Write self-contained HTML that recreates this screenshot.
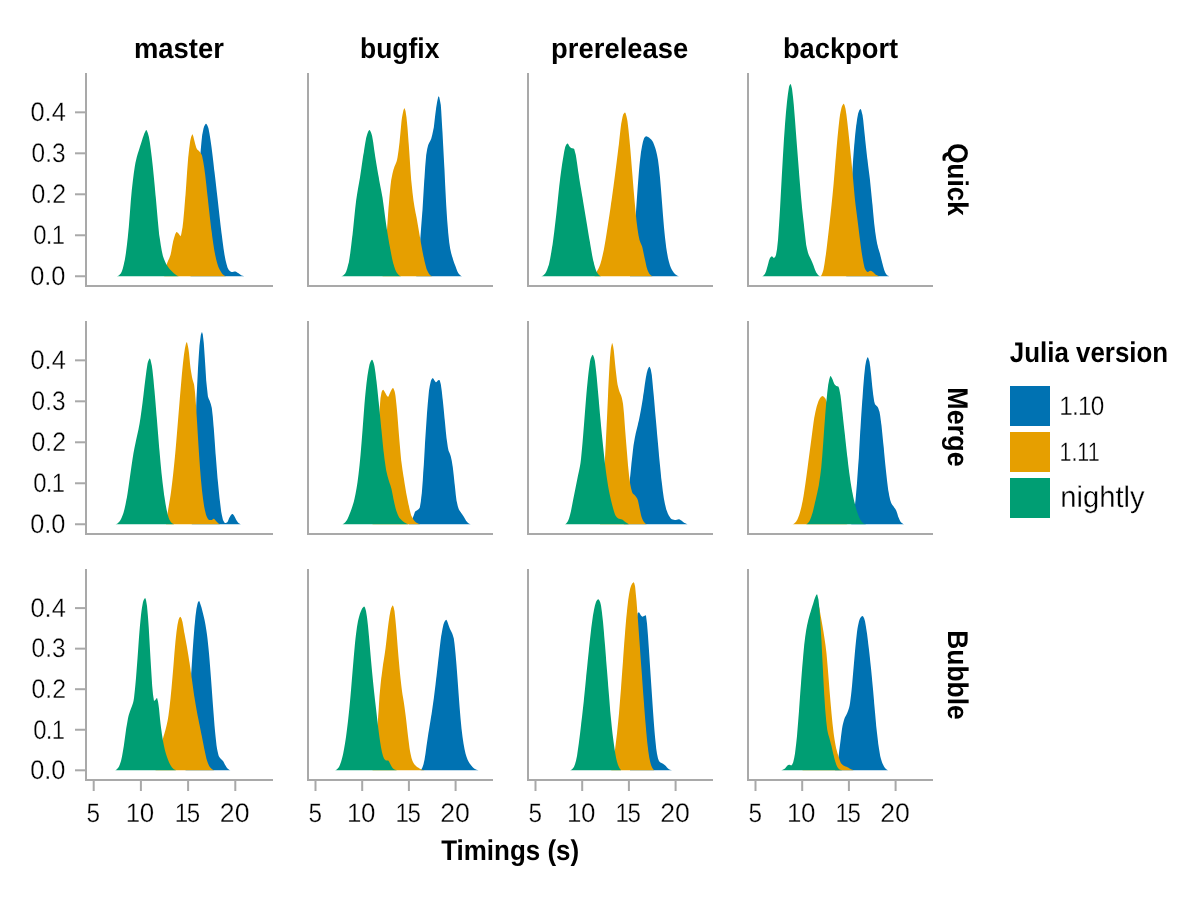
<!DOCTYPE html>
<html lang="en"><head><meta charset="utf-8"><title>Timings (s) by Julia version</title>
<style>html,body{margin:0;padding:0;background:#fff}svg{display:block}text{font-family:"Liberation Sans", sans-serif;fill:#000;text-rendering:geometricPrecision}.b{font-weight:bold}.lt{stroke:#fff;stroke-width:.3px}</style></head><body>
<svg width="1200" height="900" viewBox="0 0 1200 900" style="will-change:transform">
<rect width="1200" height="900" fill="#fff"/>
<g>
<path fill="#0072B2" d="M190.5 276.25L190.5 276.2L191.5 269.2L192.5 260.3L193.5 250.0L194.5 237.3L195.5 222.4L196.0 215.0L196.5 207.6L197.5 192.1L198.5 177.5L199.5 164.4L200.5 152.5L201.5 141.4L202.2 135.0L202.5 133.5L203.5 128.6L204.2 126.2L204.5 125.7L205.5 124.0L206.0 123.8L206.5 124.0L207.5 125.8L208.0 127.0L208.5 128.6L209.5 133.8L210.5 140.0L211.5 147.0L212.5 155.1L213.5 163.6L214.2 170.0L214.5 172.1L215.5 180.6L216.5 189.4L217.5 198.1L218.0 202.5L218.5 206.9L219.5 215.9L220.5 224.8L221.5 233.1L221.8 235.0L222.5 240.7L223.5 248.2L224.5 254.8L225.5 260.0L226.5 264.1L227.5 267.4L228.5 269.5L229.5 270.7L230.5 271.5L231.5 272.0L231.8 272.0L232.5 271.9L233.5 271.7L234.5 271.5L235.0 271.5L235.5 271.6L236.5 272.0L237.5 272.7L238.0 273.0L238.5 273.3L239.5 274.0L240.5 274.8L241.5 275.4L241.8 275.5L242.5 275.8L243.5 276.1L244.2 276.2L244.2 276.25Z"/>
<path fill="#E69F00" d="M164.2 276.25L164.2 276.2L165.2 270.9L166.2 266.4L166.8 264.5L167.2 263.0L168.2 260.6L169.2 258.4L170.2 255.8L170.5 255.0L171.2 251.7L172.2 246.0L173.2 240.9L173.5 240.0L174.2 237.4L175.2 234.3L176.2 232.3L176.8 232.0L177.2 232.2L178.2 233.2L178.8 233.8L179.2 234.5L180.2 236.1L180.5 236.2L181.2 234.5L182.2 229.0L182.5 227.5L183.2 221.5L184.2 210.5L185.2 198.0L185.5 195.0L186.2 185.0L187.2 170.3L188.2 157.5L188.5 155.0L189.2 148.4L190.2 141.0L191.0 137.5L191.2 136.7L192.2 134.4L192.5 134.2L193.2 135.9L194.2 140.0L195.2 143.9L196.2 147.6L196.8 148.8L197.2 149.4L198.2 150.3L199.2 151.2L200.2 152.4L201.2 154.0L201.8 155.0L202.2 156.5L203.2 161.4L204.2 167.5L205.2 174.9L206.2 183.8L207.2 193.2L208.0 200.0L208.2 202.2L209.2 211.2L210.2 220.2L211.2 228.7L211.8 232.5L212.2 236.2L213.2 243.2L214.2 249.7L215.2 255.1L215.5 256.2L216.2 259.4L217.2 263.2L218.2 266.4L219.2 268.8L220.2 270.6L221.2 272.3L222.2 273.7L223.2 274.8L224.2 275.5L225.2 275.9L226.2 276.2L226.8 276.2L226.8 276.25Z"/>
<path fill="#009E73" d="M116.8 276.25L116.8 276.2L117.8 276.0L118.8 275.4L119.8 274.5L120.5 273.8L120.8 273.4L121.8 271.4L122.8 268.4L123.8 264.6L124.2 262.5L124.8 260.1L125.8 253.8L126.8 246.0L127.8 237.3L128.0 235.0L128.8 227.0L129.8 214.2L130.8 201.0L131.8 190.0L132.8 181.2L133.8 173.3L134.8 166.6L135.5 162.5L135.8 161.3L136.8 157.1L137.8 153.6L138.8 150.4L139.8 147.3L140.5 145.0L140.8 144.2L141.8 140.9L142.8 137.8L143.8 135.0L144.2 133.8L144.8 132.5L145.8 130.4L146.2 130.0L146.8 130.4L147.8 132.9L148.5 135.5L148.8 136.5L149.8 142.0L150.8 149.4L151.8 157.5L152.8 166.4L153.8 176.5L154.8 187.1L155.5 195.0L155.8 197.6L156.8 209.0L157.8 220.6L158.8 230.9L159.2 235.0L159.8 238.6L160.8 245.3L161.8 251.0L162.8 255.4L163.0 256.2L163.8 258.5L164.8 261.1L165.8 263.2L166.8 265.0L167.8 266.6L168.8 267.9L169.8 269.2L170.8 270.3L171.8 271.2L172.8 272.2L173.8 273.2L174.8 274.0L175.8 274.8L176.8 275.5L177.8 275.9L178.0 276.0L178.8 276.2L179.2 276.2L179.2 276.25Z"/>
</g>
<g>
<path fill="#0072B2" d="M416.2 276.25L416.2 276.2L417.2 271.8L418.2 264.4L418.8 260.0L419.2 254.4L420.2 239.7L420.5 236.2L421.2 226.6L422.2 213.5L422.5 210.0L423.2 198.0L424.2 181.2L424.5 177.5L425.2 166.5L426.2 155.0L427.2 148.9L428.2 145.0L429.2 142.7L430.2 141.0L431.2 138.8L432.2 135.1L433.2 130.3L433.8 127.5L434.2 124.0L435.2 115.2L436.2 107.5L437.2 101.5L438.2 97.0L438.8 96.2L439.2 97.0L440.2 101.7L440.8 105.0L441.2 110.5L442.2 128.1L442.5 132.5L443.2 146.0L444.2 165.1L444.5 170.0L445.2 185.5L446.2 205.0L447.2 220.5L448.0 230.0L448.2 232.7L449.2 242.2L450.0 247.5L450.2 248.8L451.2 253.2L452.2 256.7L452.5 257.5L453.2 259.9L454.2 262.9L455.2 265.6L455.5 266.2L456.2 268.3L457.2 270.9L458.2 273.1L458.8 273.8L459.2 274.3L460.2 275.2L461.2 275.9L462.2 276.2L462.5 276.2L462.5 276.25Z"/>
<path fill="#E69F00" d="M382.5 276.25L382.5 276.2L383.5 272.1L384.5 264.5L385.0 260.0L385.5 254.1L386.5 237.9L387.0 230.0L387.5 222.5L388.5 208.1L388.8 205.0L389.5 196.2L390.5 185.8L391.2 180.0L391.5 178.5L392.5 173.5L393.5 169.6L393.8 168.8L394.5 166.6L395.5 164.3L396.5 161.8L397.0 160.0L397.5 157.6L398.5 150.7L399.5 142.5L400.5 132.1L401.5 121.2L402.0 117.5L402.5 114.7L403.5 110.0L404.5 108.0L405.5 111.1L406.5 117.5L407.5 127.8L408.5 141.6L408.8 145.0L409.5 155.6L410.5 170.5L411.2 180.0L411.5 182.7L412.5 192.5L413.5 200.7L413.8 202.5L414.5 207.1L415.5 212.4L416.5 217.3L417.0 220.0L417.5 222.9L418.5 228.8L419.5 234.7L420.0 237.5L420.5 240.3L421.5 246.0L422.5 251.4L423.5 256.4L423.8 257.5L424.5 260.9L425.5 265.1L426.5 268.7L427.0 270.0L427.5 271.1L428.5 273.1L429.5 274.5L430.0 275.0L430.5 275.4L431.5 276.0L432.5 276.2L432.5 276.25Z"/>
<path fill="#009E73" d="M341.2 276.25L341.2 276.2L342.2 276.0L343.2 275.4L344.2 274.5L345.0 273.8L345.2 273.4L346.2 271.4L347.2 268.4L348.2 264.6L348.8 262.5L349.2 260.0L350.2 253.5L351.2 245.5L352.2 237.1L352.5 235.0L353.2 228.3L354.2 218.3L355.2 208.5L356.2 200.0L357.2 193.4L358.2 187.6L359.2 182.0L360.0 177.5L360.2 175.9L361.2 169.2L362.2 162.2L363.2 155.6L363.8 152.5L364.2 149.4L365.2 143.2L366.2 137.8L367.0 135.0L367.2 134.3L368.2 131.6L369.2 130.1L369.5 130.0L370.2 130.7L371.2 133.1L372.0 135.5L372.2 136.4L373.2 142.3L374.2 149.8L375.0 155.0L375.2 156.6L376.2 162.7L377.2 168.8L378.2 174.6L378.8 177.5L379.2 180.2L380.2 185.4L381.2 190.5L382.2 196.0L382.5 197.5L383.2 202.5L384.2 210.1L385.2 217.8L386.2 225.0L387.2 231.5L388.2 237.6L389.2 243.4L390.0 247.5L390.2 248.8L391.2 254.1L392.2 259.0L393.2 263.3L393.8 265.0L394.2 266.6L395.2 269.5L396.2 271.8L397.0 273.0L397.2 273.3L398.2 274.4L399.2 275.4L400.2 276.0L401.2 276.2L401.2 276.25Z"/>
</g>
<g>
<path fill="#0072B2" d="M630.0 276.25L630.0 276.2L631.0 271.5L632.0 264.1L633.0 255.0L634.0 242.4L635.0 226.6L635.8 215.0L636.0 211.4L637.0 196.9L637.5 190.0L638.0 183.2L639.0 170.4L639.5 165.0L640.0 160.3L641.0 152.1L641.8 147.5L642.0 146.2L643.0 141.6L644.0 138.4L644.2 138.0L645.0 137.0L646.0 136.3L646.2 136.2L647.0 136.4L648.0 136.9L649.0 137.6L649.5 138.0L650.0 138.4L651.0 139.3L652.0 140.5L652.5 141.2L653.0 142.1L654.0 144.4L655.0 147.2L655.5 148.8L656.0 150.5L657.0 154.7L658.0 160.0L659.0 167.7L660.0 177.5L661.0 189.4L662.0 202.5L663.0 215.5L664.0 227.5L665.0 237.4L666.0 245.7L666.2 247.5L667.0 252.4L668.0 258.0L668.8 261.2L669.0 262.1L670.0 265.4L671.0 268.0L672.0 270.0L673.0 271.6L674.0 273.0L675.0 274.1L675.5 274.5L676.0 274.8L677.0 275.4L678.0 275.9L679.0 276.2L679.5 276.2L679.5 276.25Z"/>
<path fill="#E69F00" d="M594.5 276.25L594.5 276.2L595.5 274.3L596.5 272.3L597.0 271.2L597.5 270.3L598.5 268.4L599.5 266.3L600.0 265.0L600.5 263.5L601.5 260.0L602.5 255.8L603.5 251.2L603.8 250.0L604.5 246.1L605.5 240.2L606.5 233.9L607.5 227.5L608.5 221.1L609.5 214.5L610.5 207.7L611.2 202.5L611.5 200.7L612.5 193.6L613.5 186.3L614.5 178.8L615.0 175.0L615.5 171.1L616.5 163.3L617.5 155.2L618.5 147.1L618.8 145.0L619.5 138.3L620.5 129.2L621.2 123.8L621.5 122.3L622.5 116.9L623.2 114.5L623.5 114.1L624.5 112.7L625.0 112.5L625.5 113.1L626.5 116.5L627.0 118.8L627.5 121.6L628.5 130.0L629.5 140.0L630.5 151.3L631.5 163.8L632.0 170.0L632.5 176.1L633.5 188.4L634.5 200.0L635.5 210.9L636.5 220.9L637.0 225.0L637.5 228.7L638.5 235.2L639.5 240.0L640.5 242.7L641.5 244.9L642.0 246.2L642.5 248.1L643.5 252.8L644.5 257.5L645.5 262.1L646.5 266.7L647.5 270.0L648.5 272.2L649.5 273.9L650.5 275.0L651.5 275.7L652.5 276.2L653.0 276.2L653.0 276.25Z"/>
<path fill="#009E73" d="M541.2 276.25L541.2 276.2L542.2 276.0L543.2 275.4L544.2 274.5L545.0 273.8L545.2 273.5L546.2 271.8L547.2 269.5L548.2 266.6L548.8 265.0L549.2 263.2L550.2 258.5L551.2 252.8L552.2 246.6L552.5 245.0L553.2 239.8L554.2 232.1L555.2 223.6L556.2 215.0L557.2 205.8L558.2 195.9L559.2 186.4L560.0 180.0L560.2 178.0L561.2 170.5L562.2 163.6L563.2 157.5L564.2 151.6L565.2 146.9L565.5 146.2L566.2 144.8L567.2 143.6L567.5 143.5L568.2 144.1L569.2 145.9L570.0 147.0L570.2 147.2L571.2 147.9L572.0 148.2L572.2 148.3L573.2 148.5L574.0 148.8L574.2 149.0L575.2 152.7L575.8 155.0L576.2 157.6L577.2 164.3L578.2 171.6L578.8 175.0L579.2 178.1L580.2 184.2L581.2 190.1L582.2 196.0L582.5 197.5L583.2 202.0L584.2 208.0L585.2 214.0L586.2 220.0L587.2 226.1L588.2 232.2L589.2 238.2L590.0 242.5L590.2 243.9L591.2 249.7L592.2 255.4L593.2 260.4L593.8 262.5L594.2 264.4L595.2 268.1L596.2 271.0L597.0 272.5L597.2 272.8L598.2 274.2L599.2 275.2L600.2 276.0L601.2 276.2L601.2 276.25Z"/>
</g>
<g>
<path fill="#0072B2" d="M846.2 276.25L846.2 276.2L847.2 265.3L848.2 251.9L849.2 236.6L849.5 232.5L850.2 218.1L851.2 195.5L852.2 174.3L852.5 170.0L853.2 158.5L854.2 145.4L854.5 142.5L855.2 134.5L856.2 125.6L856.5 123.8L857.2 118.6L858.2 113.3L858.5 112.5L859.2 110.6L860.2 109.1L860.5 109.0L861.2 110.1L862.2 113.9L862.5 115.0L863.2 120.1L864.2 130.0L865.0 137.5L865.2 139.8L866.2 148.9L867.2 157.9L867.5 160.0L868.2 166.0L869.2 173.7L870.0 180.0L870.2 182.3L871.2 192.2L872.2 202.5L872.5 205.0L873.2 212.9L874.2 223.4L875.0 230.0L875.2 231.8L876.2 238.5L877.2 243.9L877.5 245.0L878.2 247.9L879.2 251.2L880.0 253.8L880.2 254.7L881.2 258.8L882.2 262.8L882.5 263.8L883.2 266.6L884.2 270.1L885.0 272.0L885.2 272.5L886.2 274.2L887.2 275.3L887.5 275.5L888.2 275.8L889.2 276.2L890.0 276.2L890.0 276.25Z"/>
<path fill="#E69F00" d="M820.5 276.25L820.5 276.2L821.5 275.2L822.5 272.7L823.0 271.2L823.5 269.4L824.5 263.7L825.5 256.7L825.8 255.0L826.5 249.4L827.5 241.1L828.5 232.5L829.5 223.8L830.5 214.7L831.0 210.0L831.5 205.2L832.5 195.5L833.5 185.0L834.5 173.0L835.5 160.5L835.8 157.5L836.5 148.8L837.5 137.6L838.0 132.5L838.5 127.6L839.5 118.5L840.0 115.0L840.5 112.2L841.5 107.7L842.0 106.2L842.5 105.2L843.5 103.8L843.8 103.8L844.5 105.0L845.5 108.8L846.5 115.2L847.5 123.8L848.5 132.8L849.5 142.6L850.0 147.5L850.5 152.4L851.5 162.3L852.5 172.5L853.5 183.7L854.5 195.0L855.0 200.0L855.5 204.4L856.5 212.3L857.5 220.0L858.5 228.1L859.5 236.2L860.0 240.0L860.5 243.8L861.5 251.2L862.5 257.5L863.5 262.9L864.5 267.4L865.0 268.8L865.5 269.7L866.5 271.3L867.5 272.0L868.5 271.7L869.5 271.1L870.5 270.8L871.5 271.0L872.5 271.7L873.0 272.0L873.5 272.4L874.5 273.4L875.5 274.4L876.2 275.0L876.5 275.1L877.5 275.6L878.5 276.0L879.5 276.2L879.5 276.25Z"/>
<path fill="#009E73" d="M762.0 276.25L762.0 276.2L763.0 275.9L764.0 275.0L765.0 273.8L766.0 271.4L767.0 267.9L767.5 266.2L768.0 264.5L769.0 260.6L770.0 258.0L771.0 256.8L772.0 256.2L773.0 257.3L773.8 258.0L774.0 258.0L775.0 257.0L775.5 256.2L776.0 254.8L777.0 249.2L777.2 247.5L778.0 239.9L779.0 225.3L779.5 217.5L780.0 209.3L781.0 190.8L782.0 172.5L783.0 155.1L784.0 138.4L784.8 127.5L785.0 124.3L786.0 112.1L787.0 101.8L787.5 97.5L788.0 93.5L789.0 87.1L789.2 86.2L790.0 84.5L790.5 84.0L791.0 84.7L792.0 88.8L793.0 96.9L793.8 105.0L794.0 107.7L795.0 120.1L796.0 133.5L796.5 140.0L797.0 146.4L798.0 159.2L799.0 171.9L799.2 175.0L800.0 184.4L801.0 196.7L801.8 205.0L802.0 207.5L803.0 216.7L804.0 225.3L804.2 227.5L805.0 234.7L806.0 243.4L806.2 245.0L807.0 248.8L808.0 252.7L808.8 255.0L809.0 255.6L810.0 257.6L811.0 259.5L811.2 260.0L812.0 261.8L813.0 264.3L813.8 266.2L814.0 266.9L815.0 269.7L816.0 272.1L816.2 272.5L817.0 273.6L818.0 274.9L819.0 275.8L820.0 276.2L820.0 276.25Z"/>
</g>
<g>
<path fill="#0072B2" d="M191.8 524.25L191.8 524.2L192.8 504.3L193.8 480.8L194.2 468.0L194.8 453.3L195.8 419.8L196.5 398.0L196.8 392.2L197.8 372.4L198.0 368.0L198.8 355.4L199.5 345.5L199.8 343.0L200.8 335.3L201.0 334.2L201.8 332.2L202.0 332.0L202.8 334.6L203.2 338.0L203.8 343.2L204.8 358.0L205.8 373.7L206.2 380.5L206.8 386.3L207.8 395.5L208.0 396.8L208.8 399.0L209.8 401.1L210.0 401.8L210.8 404.0L211.8 408.0L212.8 416.8L213.5 425.5L213.8 428.5L214.8 442.5L215.5 453.0L215.8 456.3L216.8 469.1L217.5 478.0L217.8 480.7L218.8 491.1L219.5 498.0L219.8 500.2L220.8 508.4L221.2 511.8L221.8 514.7L222.8 519.3L223.0 520.0L223.8 521.6L224.8 522.9L225.0 523.0L225.8 522.9L226.8 522.6L227.0 522.5L227.8 521.5L228.8 519.1L229.2 518.0L229.8 517.1L230.8 515.3L231.2 514.8L231.8 514.3L232.5 514.0L232.8 514.1L233.8 515.2L234.0 515.5L234.8 516.9L235.8 519.0L236.0 519.5L236.8 520.7L237.8 522.2L238.5 523.0L238.8 523.2L239.8 523.8L240.8 524.2L241.0 524.2L241.0 524.25Z"/>
<path fill="#E69F00" d="M166.0 524.25L166.0 524.2L167.0 517.2L168.0 510.5L169.0 504.6L170.0 498.7L170.5 495.5L171.0 491.9L172.0 484.1L173.0 475.5L174.0 466.1L175.0 455.9L175.5 450.5L176.0 444.8L177.0 432.8L178.0 420.5L179.0 408.4L180.0 396.3L180.5 390.5L181.0 384.7L182.0 373.1L183.0 363.0L184.0 354.5L185.0 348.0L186.0 343.5L186.8 342.0L187.0 342.2L188.0 346.4L188.5 349.2L189.0 353.1L190.0 363.6L190.5 368.0L191.0 371.3L192.0 376.9L192.5 379.2L193.0 381.0L194.0 384.3L194.2 385.5L195.0 392.2L196.0 405.5L197.0 421.2L198.0 438.0L199.0 453.7L200.0 468.0L201.0 480.3L202.0 490.5L203.0 498.7L204.0 505.4L204.2 506.8L205.0 510.5L206.0 514.7L206.8 516.8L207.0 517.2L208.0 519.0L209.0 520.0L209.2 520.0L210.0 520.0L211.0 520.0L211.8 520.0L212.0 519.9L213.0 519.1L213.8 518.8L214.0 518.8L215.0 519.8L216.0 521.0L217.0 522.1L218.0 523.1L218.5 523.5L219.0 523.8L220.0 524.2L220.5 524.2L220.5 524.25Z"/>
<path fill="#009E73" d="M115.5 524.25L115.5 524.2L116.5 524.0L117.5 523.4L118.5 522.5L119.2 521.8L119.5 521.5L120.5 520.0L121.5 518.0L122.5 515.6L123.0 514.2L123.5 512.7L124.5 508.9L125.5 504.4L126.5 499.3L126.8 498.0L127.5 493.7L128.5 487.0L129.5 479.9L130.5 473.0L131.5 466.1L132.5 459.2L133.5 453.0L134.5 447.7L135.5 442.9L136.0 440.5L136.5 438.2L137.5 433.8L138.5 429.3L139.2 425.5L139.5 424.1L140.5 417.7L141.5 410.5L142.5 403.0L143.5 394.8L144.5 386.0L145.5 378.0L146.5 370.3L147.5 363.8L148.0 361.8L148.5 360.4L149.5 358.6L149.8 358.5L150.5 359.8L151.5 364.2L151.8 365.5L152.5 370.6L153.5 380.1L154.2 388.0L154.5 390.7L155.5 402.5L156.5 415.0L156.8 418.0L157.5 427.1L158.5 439.2L159.2 448.0L159.5 450.9L160.5 462.4L161.5 473.1L161.8 475.5L162.5 482.1L163.5 490.1L164.2 495.5L164.5 497.2L165.5 503.8L166.5 509.3L166.8 510.5L167.5 513.7L168.5 517.3L169.2 519.2L169.5 519.7L170.5 521.4L171.5 522.7L172.5 523.5L173.5 524.0L174.2 524.2L174.2 524.25Z"/>
</g>
<g>
<path fill="#0072B2" d="M408.8 524.25L408.8 524.2L409.8 522.9L410.8 521.3L411.2 520.5L411.8 519.7L412.8 517.8L413.2 516.8L413.8 515.3L414.8 512.2L415.0 511.8L415.8 511.1L416.8 510.5L417.5 510.0L417.8 509.8L418.8 509.0L419.5 508.0L419.8 507.4L420.8 501.8L421.2 498.0L421.8 493.3L422.8 480.3L423.2 473.0L423.8 465.0L424.8 447.2L425.0 443.0L425.8 431.1L426.8 416.3L427.0 413.0L427.8 403.3L428.8 392.4L429.0 390.5L429.8 385.7L430.8 381.2L431.0 380.5L431.8 379.0L432.8 378.0L433.8 379.2L434.5 380.5L434.8 380.9L435.8 382.2L436.0 382.2L436.8 381.7L437.8 380.5L438.8 380.1L439.2 380.0L439.8 380.6L440.8 384.2L441.8 391.2L442.5 398.0L442.8 400.3L443.8 410.3L444.5 418.0L444.8 420.6L445.8 431.2L446.5 438.0L446.8 439.9L447.8 446.9L448.5 450.5L448.8 451.3L449.8 453.6L450.5 455.5L450.8 456.4L451.8 461.1L452.5 465.5L452.8 467.2L453.8 476.0L454.5 483.0L454.8 485.3L455.8 494.9L456.5 500.5L456.8 501.8L457.8 506.3L458.8 509.2L459.8 511.0L460.8 512.3L461.2 513.0L461.8 513.7L462.8 515.2L463.8 516.8L464.8 518.5L465.8 520.3L466.2 521.0L466.8 521.6L467.8 522.8L468.8 523.5L469.8 523.9L470.8 524.2L471.2 524.2L471.2 524.25Z"/>
<path fill="#E69F00" d="M372.5 524.25L372.5 524.2L373.5 510.3L374.5 495.5L375.5 480.0L376.2 468.0L376.5 463.8L377.5 445.5L378.5 426.8L379.5 410.5L380.5 398.0L381.5 392.4L382.0 391.0L382.5 390.3L383.2 389.8L383.5 389.9L384.5 391.6L385.0 392.5L385.5 393.3L386.5 395.2L387.5 396.5L388.0 396.8L388.5 396.4L389.5 394.1L390.5 391.8L391.5 389.8L392.5 388.3L393.0 388.0L393.5 388.4L394.5 391.1L395.0 393.0L395.5 395.9L396.5 405.2L397.0 410.5L397.5 416.2L398.5 429.2L399.0 435.5L399.5 441.5L400.5 453.1L401.2 460.5L401.5 462.6L402.5 469.9L403.5 476.4L403.8 478.0L404.5 482.8L405.5 488.8L406.2 493.0L406.5 494.4L407.5 499.6L408.5 504.4L408.8 505.5L409.5 508.9L410.5 513.1L411.2 515.5L411.5 516.1L412.5 518.1L413.5 519.7L413.8 520.0L414.5 520.9L415.5 521.9L416.5 522.7L417.0 523.0L417.5 523.3L418.5 523.8L419.5 524.1L420.0 524.2L420.0 524.25Z"/>
<path fill="#009E73" d="M342.5 524.25L342.5 524.2L343.5 523.8L344.5 523.0L345.5 521.9L346.2 521.0L346.5 520.7L347.5 518.9L348.5 516.7L349.5 514.3L350.0 513.0L350.5 511.7L351.5 509.1L352.5 506.1L353.5 502.7L353.8 501.8L354.5 498.7L355.5 494.0L356.5 488.5L357.0 485.5L357.5 482.2L358.5 474.4L359.5 465.4L360.0 460.5L360.5 455.2L361.5 443.2L362.5 430.5L363.5 417.1L364.5 403.8L365.0 398.0L365.5 392.8L366.5 383.2L367.5 375.5L368.5 369.4L369.5 364.6L370.0 363.0L370.5 361.8L371.5 360.0L372.0 359.8L372.5 360.1L373.5 362.6L374.0 364.2L374.5 366.5L375.5 373.3L376.2 379.2L376.5 381.3L377.5 390.5L378.5 400.5L378.8 403.0L379.5 410.4L380.5 420.5L381.2 428.0L381.5 430.5L382.5 441.1L383.5 450.9L383.8 453.0L384.5 459.0L385.5 466.1L386.2 470.5L386.5 471.7L387.5 476.0L388.5 479.6L388.8 480.5L389.5 482.8L390.5 485.5L391.2 488.0L391.5 489.0L392.5 494.0L393.5 499.3L393.8 500.5L394.5 503.8L395.5 507.9L396.2 510.5L396.5 511.3L397.5 514.1L398.5 516.3L398.8 516.8L399.5 517.9L400.5 519.1L401.5 520.1L402.5 521.0L403.5 521.8L404.5 522.5L405.5 523.1L406.2 523.5L406.5 523.6L407.5 524.0L408.5 524.2L408.8 524.2L408.8 524.25Z"/>
</g>
<g>
<path fill="#0072B2" d="M623.8 524.25L623.8 524.2L624.8 519.6L625.8 513.9L626.8 507.3L627.0 505.5L627.8 499.6L628.8 490.3L629.8 480.4L630.0 478.0L630.8 470.5L631.5 463.0L631.8 460.6L632.8 451.4L633.5 445.5L633.8 443.8L634.8 438.0L635.8 433.0L636.8 428.9L637.8 425.1L638.2 423.0L638.8 420.7L639.8 415.8L640.8 410.5L641.8 404.8L642.8 398.7L643.2 395.5L643.8 392.0L644.8 384.5L645.8 378.0L646.8 372.8L647.8 369.2L648.8 367.3L649.5 366.8L649.8 366.9L650.8 369.6L651.2 371.8L651.8 375.1L652.8 385.4L653.0 388.0L653.8 396.1L654.8 407.7L655.0 410.5L655.8 418.9L656.8 430.2L657.0 433.0L657.8 441.6L658.8 452.8L659.0 455.5L659.8 463.4L660.8 473.4L661.2 478.0L661.8 482.5L662.8 491.0L663.8 498.0L664.8 503.3L665.8 507.5L666.2 509.2L666.8 510.8L667.8 513.5L668.8 515.5L669.8 517.1L670.8 518.5L671.8 519.2L672.8 519.6L673.8 519.8L674.8 520.0L675.5 520.0L675.8 520.0L676.8 519.8L677.8 519.4L678.8 519.2L679.8 519.5L680.8 520.2L681.2 520.5L681.8 520.8L682.8 521.7L683.8 522.5L684.5 523.0L684.8 523.1L685.8 523.6L686.8 524.0L687.5 524.2L687.5 524.25Z"/>
<path fill="#E69F00" d="M600.0 524.25L600.0 524.2L601.0 516.3L602.0 505.6L603.0 493.0L604.0 477.0L605.0 457.8L605.8 443.0L606.0 438.2L607.0 418.0L608.0 395.9L608.2 390.5L609.0 374.6L609.5 365.5L610.0 357.7L610.8 349.2L611.0 347.7L612.0 343.2L612.2 343.0L613.0 345.5L613.8 350.5L614.0 352.4L615.0 362.9L615.5 368.0L616.0 372.6L617.0 381.1L617.5 384.2L618.0 386.6L619.0 390.2L619.5 391.8L620.0 393.1L621.0 395.3L621.5 396.8L622.0 398.6L623.0 403.8L623.2 405.5L624.0 413.8L625.0 428.0L626.0 440.7L627.0 453.0L628.0 465.2L628.8 473.0L629.0 475.2L630.0 482.7L630.5 485.5L631.0 487.9L632.0 491.8L632.5 493.0L633.0 493.7L634.0 494.6L635.0 495.5L636.0 496.7L637.0 498.2L637.5 499.2L638.0 500.8L639.0 505.6L639.5 508.0L640.0 510.3L641.0 515.0L641.5 516.8L642.0 518.2L643.0 520.5L643.8 521.8L644.0 522.1L645.0 523.2L646.0 524.0L646.8 524.2L646.8 524.25Z"/>
<path fill="#009E73" d="M565.0 524.25L565.0 524.2L566.0 523.8L567.0 522.6L568.0 521.0L569.0 518.5L570.0 514.9L570.5 513.0L571.0 510.9L572.0 505.8L573.0 500.5L574.0 495.5L575.0 490.5L575.5 488.0L576.0 485.5L577.0 480.5L578.0 475.5L579.0 470.9L580.0 466.1L580.5 463.0L581.0 459.0L582.0 448.6L582.5 443.0L583.0 437.1L584.0 424.4L584.5 418.0L585.0 411.6L586.0 398.9L586.5 393.0L587.0 387.5L588.0 377.4L588.5 373.0L589.0 368.9L590.0 361.5L590.5 359.2L591.0 357.7L592.0 355.4L592.8 354.8L593.0 354.9L594.0 357.4L594.8 360.5L595.0 361.8L596.0 370.3L596.8 378.0L597.0 380.5L598.0 391.8L598.8 400.5L599.0 403.3L600.0 414.8L600.8 423.0L601.0 425.6L602.0 435.8L603.0 445.5L604.0 454.9L605.0 463.9L605.5 468.0L606.0 471.9L607.0 479.1L608.0 485.5L609.0 490.9L610.0 495.7L610.5 498.0L611.0 500.2L612.0 504.3L613.0 508.0L614.0 511.5L615.0 514.5L615.5 515.5L616.0 516.2L617.0 517.5L618.0 518.3L618.8 518.8L619.0 518.8L620.0 519.1L621.0 519.2L622.0 519.5L623.0 520.1L624.0 520.9L625.0 521.8L626.0 522.4L627.0 523.1L628.0 523.8L628.8 524.2L628.8 524.25Z"/>
</g>
<g>
<path fill="#0072B2" d="M851.2 524.25L851.2 524.2L852.2 522.2L853.2 518.0L853.8 515.5L854.2 512.2L855.2 503.0L855.5 500.5L856.2 492.3L857.0 483.0L857.2 479.7L858.2 465.6L858.8 458.0L859.2 449.7L860.2 432.1L860.5 428.0L861.2 416.2L862.2 401.5L862.5 398.0L863.2 387.6L864.2 375.5L865.2 366.3L866.0 361.8L866.2 360.8L867.2 357.7L867.8 357.2L868.2 357.7L869.2 360.8L869.5 361.8L870.2 366.5L871.2 375.5L872.2 386.0L873.0 393.0L873.2 394.8L874.2 401.5L875.0 404.2L875.2 404.6L876.2 405.6L877.2 406.4L877.5 406.8L878.2 408.1L879.2 410.9L879.5 411.8L880.2 415.7L881.2 423.5L881.5 425.5L882.2 432.4L883.2 442.8L883.8 448.0L884.2 453.1L885.2 463.4L886.2 473.0L887.2 482.0L888.2 489.9L888.8 493.0L889.2 495.6L890.2 500.0L891.2 503.0L892.2 504.7L893.2 506.1L893.8 506.8L894.2 507.5L895.2 508.8L896.2 510.5L897.2 513.3L898.2 516.7L898.8 518.0L899.2 519.1L900.2 521.2L901.2 522.5L902.2 523.3L903.2 523.9L904.2 524.2L904.5 524.2L904.5 524.25Z"/>
<path fill="#E69F00" d="M792.5 524.25L792.5 524.2L793.5 524.0L794.5 523.3L795.5 522.3L796.0 521.8L796.5 521.1L797.5 519.2L798.5 516.8L799.0 515.5L799.5 514.0L800.5 510.6L801.5 506.4L802.2 503.0L802.5 501.8L803.5 496.2L804.5 489.8L805.5 483.0L806.5 475.8L807.5 468.2L808.5 460.5L809.5 453.0L810.5 445.4L811.5 438.0L812.5 430.3L813.5 422.8L814.2 418.0L814.5 416.6L815.5 411.5L816.5 407.3L817.0 405.5L817.5 403.9L818.5 401.0L819.5 398.9L819.8 398.5L820.5 397.5L821.5 396.4L822.5 396.0L823.5 396.4L824.5 397.4L825.0 398.0L825.5 398.8L826.5 401.3L827.0 403.0L827.5 405.2L828.5 411.5L829.5 419.1L830.0 423.0L830.5 427.0L831.5 435.8L832.5 445.4L833.5 455.0L834.5 463.9L835.0 468.0L835.5 471.9L836.5 480.1L837.5 488.4L838.5 496.5L839.5 503.8L840.5 510.1L841.5 515.0L842.5 518.0L843.5 519.9L844.5 521.6L845.5 523.0L846.5 523.9L847.5 524.2L847.5 524.25Z"/>
<path fill="#009E73" d="M806.2 524.25L806.2 524.2L807.2 523.8L808.2 522.7L809.2 521.4L809.5 521.0L810.2 519.6L811.2 516.9L812.2 513.8L812.5 513.0L813.2 510.3L814.2 506.1L815.2 501.6L815.5 500.5L816.2 497.3L817.2 492.9L818.2 488.2L818.8 485.5L819.2 482.6L820.2 476.1L821.2 468.0L822.2 456.6L823.2 443.0L824.2 428.5L825.0 418.0L825.2 414.9L826.2 403.1L827.0 395.5L827.2 393.2L828.2 384.7L828.8 381.8L829.2 379.4L830.2 376.2L830.5 376.0L831.2 376.7L832.2 378.7L832.5 379.2L833.2 381.2L834.2 383.8L834.5 384.2L835.2 385.1L836.2 385.9L836.5 386.0L837.2 386.3L838.2 386.6L838.5 386.8L839.2 388.7L840.2 394.0L840.5 395.5L841.2 401.2L842.2 410.7L842.5 413.0L843.2 419.7L844.2 428.7L845.0 435.5L845.2 437.8L846.2 446.9L847.2 455.9L847.5 458.0L848.2 464.4L849.2 472.5L850.0 478.0L850.2 479.7L851.2 486.0L852.2 491.7L852.5 493.0L853.2 496.7L854.2 501.2L855.0 504.2L855.2 505.2L856.2 509.0L857.2 512.3L857.5 513.0L858.2 515.1L859.2 517.6L860.2 519.6L860.5 520.0L861.2 521.1L862.2 522.3L863.2 523.2L863.8 523.5L864.2 523.7L865.2 524.1L866.2 524.2L866.2 524.25Z"/>
</g>
<g>
<path fill="#0072B2" d="M185.5 770.25L185.5 770.2L186.5 758.3L187.5 744.3L188.5 728.5L189.5 709.3L190.5 688.0L191.2 673.5L191.5 669.2L192.5 653.3L193.0 646.0L193.5 639.0L194.5 626.2L194.8 623.5L195.5 616.1L196.5 608.5L197.5 603.7L198.0 602.2L198.5 601.4L199.0 601.0L199.5 601.5L200.5 604.4L201.0 606.0L201.5 607.6L202.5 611.5L203.0 613.5L203.5 615.5L204.5 619.8L205.0 622.2L205.5 624.9L206.5 631.2L207.0 634.8L207.5 638.8L208.5 648.3L209.0 653.5L209.5 659.2L210.5 671.9L211.0 678.5L211.5 685.3L212.5 699.2L213.0 706.0L213.5 712.6L214.5 725.4L215.0 731.0L215.5 736.1L216.5 745.2L217.0 748.5L217.5 751.1L218.5 755.2L219.0 756.5L219.5 757.3L220.5 758.5L221.0 759.0L221.5 759.5L222.5 760.4L223.0 761.0L223.5 761.8L224.5 763.8L225.0 764.8L225.5 765.6L226.5 767.3L227.5 768.5L228.5 769.3L229.5 769.9L230.5 770.2L230.5 770.25Z"/>
<path fill="#E69F00" d="M155.5 770.25L155.5 770.2L156.5 766.8L157.5 763.0L158.5 759.1L159.2 756.0L159.5 754.9L160.5 750.2L161.5 745.3L162.5 740.6L163.0 738.5L163.5 736.6L164.5 733.3L165.5 729.8L166.5 725.8L167.5 721.2L168.0 718.5L168.5 715.3L169.5 707.5L170.5 698.5L171.5 688.2L172.5 676.8L173.0 671.0L173.5 665.0L174.5 652.3L175.5 641.0L176.5 631.8L177.5 624.8L178.5 620.1L179.2 618.0L179.5 617.6L180.5 616.8L181.5 618.5L182.2 621.0L182.5 622.0L183.5 627.7L184.2 632.2L184.5 633.6L185.5 639.1L186.5 644.6L186.8 646.0L187.5 650.3L188.5 656.3L189.2 661.0L189.5 662.6L190.5 669.6L191.5 676.7L191.8 678.5L192.5 683.8L193.5 690.9L194.2 696.0L194.5 697.6L195.5 703.8L196.5 709.6L196.8 711.0L197.5 714.9L198.5 719.8L199.2 723.5L199.5 724.8L200.5 729.8L201.5 734.8L201.8 736.0L202.5 739.8L203.5 744.8L204.2 748.5L204.5 749.7L205.5 754.6L206.5 758.9L206.8 759.8L207.5 762.0L208.5 764.6L209.2 766.0L209.5 766.4L210.5 767.8L211.5 768.8L211.8 769.0L212.5 769.5L213.5 770.0L214.2 770.2L214.2 770.25Z"/>
<path fill="#009E73" d="M115.0 770.25L115.0 770.2L116.0 769.9L117.0 769.1L118.0 768.0L119.0 766.4L120.0 764.0L121.0 761.0L122.0 756.6L123.0 750.7L123.8 746.0L124.0 744.4L125.0 737.3L126.0 730.1L126.2 728.5L127.0 723.9L128.0 718.2L128.5 716.0L129.0 714.2L130.0 711.3L131.0 708.5L132.0 705.9L133.0 703.0L133.5 701.0L134.0 698.0L135.0 688.7L135.5 683.5L136.0 677.9L137.0 665.1L137.5 658.5L138.0 651.6L139.0 637.3L139.5 631.0L140.0 625.3L141.0 615.0L141.5 611.0L142.0 607.6L143.0 602.1L143.5 600.5L144.0 599.4L145.0 598.1L145.2 598.0L146.0 599.9L147.0 606.0L148.0 617.3L148.8 628.5L149.0 632.4L150.0 649.9L150.5 658.5L151.0 667.0L152.0 682.9L152.2 686.0L153.0 694.6L154.0 701.0L155.0 700.3L155.5 699.8L156.0 699.0L157.0 697.8L158.0 701.6L158.5 704.8L159.0 708.6L160.0 718.9L160.5 723.5L161.0 727.5L162.0 734.8L163.0 741.0L164.0 746.1L165.0 750.4L165.5 752.2L166.0 754.0L167.0 757.1L168.0 759.8L169.0 762.2L170.0 764.3L171.0 766.0L172.0 767.4L173.0 768.6L174.0 769.4L174.2 769.5L175.0 769.8L176.0 770.2L176.8 770.2L176.8 770.25Z"/>
</g>
<g>
<path fill="#0072B2" d="M420.5 770.25L420.5 770.2L421.5 769.2L422.5 767.2L423.5 764.2L424.5 759.8L425.5 753.4L426.5 746.0L427.5 739.2L428.5 732.6L428.8 731.0L429.5 726.5L430.5 720.6L431.2 716.0L431.5 714.4L432.5 707.6L433.5 700.4L433.8 698.5L434.5 692.8L435.5 684.8L436.2 678.5L436.5 676.3L437.5 667.2L438.5 658.2L438.8 656.0L439.5 649.5L440.5 641.2L441.2 636.0L441.5 634.5L442.5 628.7L443.5 624.2L443.8 623.5L444.5 621.7L445.5 620.2L446.5 619.8L447.5 621.9L448.0 623.5L448.5 624.9L449.5 627.7L450.0 629.0L450.5 630.0L451.5 631.9L452.0 633.0L452.5 634.2L453.5 637.4L453.8 638.5L454.5 643.7L455.5 653.5L456.5 665.3L457.5 678.5L458.5 692.4L459.5 706.0L460.5 718.1L461.5 728.5L462.5 736.8L463.5 743.5L464.5 749.1L465.5 753.5L466.5 756.8L467.5 759.4L468.0 760.5L468.5 761.5L469.5 763.2L470.5 764.6L471.2 765.5L471.5 765.8L472.5 766.9L473.5 767.9L474.5 768.7L475.0 769.0L475.5 769.2L476.5 769.7L477.5 770.0L478.5 770.2L478.8 770.2L478.8 770.25Z"/>
<path fill="#E69F00" d="M372.5 770.25L372.5 770.2L373.5 765.8L374.5 759.1L375.5 751.0L376.5 740.3L377.5 726.8L378.2 716.0L378.5 712.1L379.5 696.0L380.5 685.2L381.2 678.5L381.5 676.4L382.5 668.8L383.2 663.5L383.5 661.8L384.5 655.4L385.5 648.5L386.5 639.9L387.5 631.0L388.5 622.9L389.5 616.0L390.5 610.7L391.2 608.0L391.5 607.4L392.5 605.6L392.8 605.5L393.5 606.8L394.2 609.8L394.5 611.1L395.5 620.5L396.0 626.0L396.5 631.8L397.5 644.8L398.0 651.0L398.5 656.9L399.5 668.3L400.0 673.5L400.5 678.3L401.5 687.1L402.0 691.0L402.5 694.4L403.5 700.3L404.0 703.5L404.5 707.0L405.5 714.5L406.0 718.5L406.5 722.7L407.5 731.8L408.0 736.0L408.5 740.1L409.5 747.9L410.0 751.0L410.5 753.6L411.5 758.0L412.5 761.0L413.5 762.9L414.5 764.4L415.5 765.5L416.5 766.4L417.5 767.2L418.5 767.8L418.8 768.0L419.5 768.5L420.5 769.1L421.5 769.6L422.0 769.8L422.5 769.9L423.5 770.1L424.5 770.2L424.5 770.25Z"/>
<path fill="#009E73" d="M335.0 770.25L335.0 770.2L336.0 770.0L337.0 769.2L338.0 768.2L338.8 767.2L339.0 766.9L340.0 764.8L341.0 761.9L342.0 758.5L343.0 754.4L344.0 749.3L345.0 743.5L346.0 736.9L347.0 729.3L348.0 721.0L349.0 711.7L350.0 701.4L350.5 696.0L351.0 690.3L352.0 678.1L353.0 666.0L354.0 654.2L355.0 643.2L355.5 638.5L356.0 634.3L357.0 626.8L358.0 621.0L359.0 616.9L360.0 613.6L360.5 612.2L361.0 611.0L362.0 608.8L362.5 608.0L363.0 607.4L364.0 606.5L364.2 606.5L365.0 607.6L366.0 611.0L367.0 617.2L368.0 626.0L369.0 636.7L370.0 648.5L371.0 659.9L372.0 671.0L373.0 681.3L374.0 691.0L375.0 699.9L376.0 708.5L377.0 717.4L378.0 726.0L379.0 733.9L380.0 741.0L381.0 747.2L382.0 752.2L383.0 756.0L384.0 758.5L385.0 759.8L386.0 760.5L386.2 760.5L387.0 760.5L388.0 760.5L388.2 760.5L389.0 761.4L390.0 763.5L391.0 765.5L392.0 767.2L393.0 768.4L394.0 769.2L394.5 769.5L395.0 769.7L396.0 770.1L397.0 770.2L397.0 770.25Z"/>
</g>
<g>
<path fill="#0072B2" d="M630.0 770.25L630.0 770.2L631.0 750.7L632.0 729.9L633.0 708.0L633.8 691.0L634.0 684.9L635.0 657.4L636.0 632.9L636.2 628.5L637.0 617.2L637.5 613.5L638.0 612.8L639.0 612.2L640.0 613.8L640.5 614.8L641.0 615.4L642.0 616.6L642.5 616.8L643.0 616.6L644.0 616.1L644.2 616.0L645.0 615.5L645.8 615.2L646.0 615.8L647.0 623.5L648.0 636.1L648.5 643.5L649.0 650.8L650.0 666.0L651.0 681.0L651.5 688.5L652.0 696.1L653.0 711.0L654.0 724.8L654.5 731.0L655.0 736.7L656.0 746.5L656.2 748.5L657.0 753.7L658.0 758.5L659.0 760.9L660.0 762.2L661.0 762.8L662.0 763.2L662.5 763.5L663.0 763.8L664.0 764.5L665.0 765.2L666.0 766.3L667.0 767.5L667.5 768.0L668.0 768.4L669.0 769.2L670.0 769.8L671.0 770.0L672.0 770.2L672.5 770.2L672.5 770.25Z"/>
<path fill="#E69F00" d="M611.2 770.25L611.2 770.2L612.2 766.9L613.0 763.5L613.2 762.2L614.2 755.4L615.0 749.8L615.2 747.9L616.2 740.0L617.0 733.5L617.2 731.2L618.2 721.5L619.0 713.5L619.2 710.7L620.2 698.3L621.0 688.5L621.2 685.2L622.2 671.4L623.0 661.0L623.2 657.5L624.2 643.4L625.0 633.5L625.2 630.4L626.2 618.7L627.0 611.0L627.2 608.7L628.2 599.9L629.0 594.8L629.2 593.4L630.2 588.5L631.0 586.0L631.2 585.4L632.2 583.6L632.8 583.0L633.2 582.5L633.8 582.2L634.2 583.0L635.0 586.0L635.2 587.5L636.2 598.1L636.5 601.0L637.2 610.1L638.2 623.5L639.2 637.7L640.0 648.5L640.2 652.0L641.2 665.7L642.0 676.0L642.2 679.5L643.2 693.4L644.0 703.5L644.2 706.8L645.2 719.6L646.0 728.5L646.2 731.3L647.2 741.9L648.0 748.5L648.2 750.4L649.2 757.2L650.0 761.0L650.2 762.0L651.2 765.5L652.0 767.2L652.2 767.7L653.2 769.3L654.2 770.2L654.5 770.2L654.5 770.25Z"/>
<path fill="#009E73" d="M570.0 770.25L570.0 770.2L571.0 770.0L572.0 769.3L573.0 768.3L573.2 768.0L574.0 766.8L575.0 764.2L576.0 760.7L576.2 759.8L577.0 755.9L578.0 749.0L578.8 743.5L579.0 741.7L580.0 733.9L581.0 725.6L581.2 723.5L582.0 717.0L583.0 708.0L583.8 701.0L584.0 698.6L585.0 688.7L586.0 678.5L586.2 676.0L587.0 668.4L588.0 658.3L588.8 651.0L589.0 648.6L590.0 639.3L591.0 630.5L591.2 628.5L592.0 622.6L593.0 615.3L593.8 611.0L594.0 609.8L595.0 605.2L596.0 602.0L596.2 601.5L597.0 600.3L598.0 599.3L598.2 599.2L599.0 599.8L600.0 601.7L600.2 602.2L601.0 605.5L602.0 612.8L602.2 614.8L603.0 621.8L604.0 633.1L604.2 636.0L605.0 645.1L606.0 657.8L606.2 661.0L607.0 670.4L608.0 682.9L608.2 686.0L609.0 695.6L610.0 708.1L610.2 711.0L611.0 719.1L612.0 729.0L612.5 733.5L613.0 737.6L614.0 745.1L614.5 748.5L615.0 751.7L616.0 757.5L616.5 759.8L617.0 761.7L618.0 765.0L618.8 766.8L619.0 767.2L620.0 769.0L621.0 770.1L621.2 770.2L621.2 770.25Z"/>
</g>
<g>
<path fill="#0072B2" d="M835.0 770.25L835.0 770.2L836.0 768.8L837.0 765.5L837.5 763.5L838.0 760.8L839.0 753.0L839.2 751.0L840.0 744.7L840.8 738.5L841.0 736.5L842.0 729.0L842.5 726.0L843.0 723.7L844.0 719.9L844.5 718.5L845.0 717.3L846.0 715.5L847.0 713.5L848.0 711.0L849.0 708.0L849.5 706.0L850.0 703.3L851.0 695.5L851.5 691.0L852.0 686.0L853.0 674.3L853.5 668.5L854.0 662.7L855.0 651.2L855.5 646.0L856.0 641.0L857.0 632.0L857.5 628.5L858.0 625.7L859.0 621.2L859.5 619.8L860.0 618.6L861.0 617.0L861.5 616.5L862.0 616.2L862.5 616.0L863.0 616.3L864.0 618.0L864.2 618.5L865.0 621.3L866.0 627.0L866.2 628.5L867.0 633.6L868.0 641.5L868.2 643.5L869.0 649.8L870.0 658.7L870.2 661.0L871.0 668.2L872.0 678.4L872.2 681.0L873.0 689.2L874.0 700.7L874.2 703.5L875.0 712.2L876.0 723.5L876.2 726.0L877.0 733.1L878.0 741.6L878.2 743.5L879.0 748.8L880.0 754.8L880.2 756.0L881.0 759.0L882.0 762.2L882.5 763.5L883.0 764.6L884.0 766.6L885.0 768.0L886.0 769.0L887.0 769.8L888.0 770.2L888.0 770.25Z"/>
<path fill="#E69F00" d="M802.5 770.25L802.5 770.2L803.5 760.7L804.5 750.7L805.5 740.5L806.5 729.9L807.5 719.1L808.5 708.0L809.5 696.7L810.0 691.0L810.5 685.0L811.5 672.2L812.5 658.7L813.5 645.7L814.5 633.7L815.0 628.5L815.5 623.3L816.5 612.9L817.5 607.2L818.5 606.1L818.8 606.0L819.5 608.5L820.5 614.8L821.5 620.2L822.5 626.0L823.5 632.1L824.5 638.5L825.5 645.2L826.2 651.0L826.5 653.4L827.5 664.9L828.0 671.0L828.5 677.2L829.5 689.9L830.0 696.0L830.5 701.9L831.5 713.3L832.0 718.5L832.5 723.4L833.5 732.3L834.0 736.0L834.5 739.3L835.5 745.0L836.2 748.5L836.5 749.6L837.5 753.3L838.5 756.5L838.8 757.2L839.5 759.5L840.5 762.2L841.2 763.5L841.5 763.8L842.5 764.7L843.5 765.4L844.5 766.0L845.5 766.5L846.5 766.8L847.5 767.2L848.5 767.8L849.5 768.4L850.5 769.0L851.5 769.4L852.5 769.8L853.5 770.2L853.8 770.2L853.8 770.25Z"/>
<path fill="#009E73" d="M781.2 770.25L781.2 770.2L782.2 770.1L783.2 769.6L784.2 769.0L785.0 768.5L785.2 768.3L786.2 767.0L787.2 765.7L787.5 765.5L788.2 765.1L789.2 764.8L789.5 764.8L790.2 765.0L791.2 765.5L792.2 764.5L793.2 762.2L794.2 758.0L795.0 753.5L795.2 751.8L796.2 743.4L797.0 736.0L797.2 733.3L798.2 720.9L799.0 711.0L799.2 707.7L800.2 693.7L801.0 683.5L801.2 680.2L802.2 667.4L803.0 658.5L803.2 655.7L804.2 645.1L805.0 638.5L805.2 636.7L806.2 630.1L807.2 624.7L807.5 623.5L808.2 620.3L809.2 616.5L810.2 613.1L810.5 612.2L811.2 609.8L812.2 606.6L813.2 603.5L814.2 600.1L815.2 597.2L816.2 595.0L817.0 594.2L817.2 594.5L818.2 598.4L818.5 599.8L819.2 606.4L820.0 616.0L820.2 619.5L821.2 636.4L821.5 641.0L822.2 655.8L823.0 671.0L823.2 675.8L824.2 694.4L824.5 698.5L825.2 709.5L826.0 718.5L826.2 721.0L827.2 729.5L827.5 731.0L828.2 734.3L829.2 737.6L829.5 738.5L830.2 741.3L831.2 745.0L831.5 746.0L832.2 749.2L833.2 753.7L833.5 754.8L834.2 757.8L835.2 761.5L835.5 762.2L836.2 764.5L837.2 766.8L837.5 767.2L838.2 768.3L839.2 769.3L840.0 769.8L840.2 769.8L841.2 770.1L842.2 770.2L842.5 770.2L842.5 770.25Z"/>
</g>
<g fill="#A9A9A9">
<rect x="85" y="73" width="2" height="214"/>
<rect x="85" y="285" width="188" height="2"/>
<rect x="75" y="275.25" width="10" height="2"/>
<rect x="75" y="234.27" width="10" height="2"/>
<rect x="75" y="193.29" width="10" height="2"/>
<rect x="75" y="152.31" width="10" height="2"/>
<rect x="75" y="111.33" width="10" height="2"/>
<rect x="307" y="73" width="2" height="214"/>
<rect x="307" y="285" width="186" height="2"/>
<rect x="527" y="73" width="2" height="214"/>
<rect x="527" y="285" width="186" height="2"/>
<rect x="747" y="73" width="2" height="214"/>
<rect x="747" y="285" width="186" height="2"/>
<rect x="85" y="321" width="2" height="214"/>
<rect x="85" y="533" width="188" height="2"/>
<rect x="75" y="523.25" width="10" height="2"/>
<rect x="75" y="482.27" width="10" height="2"/>
<rect x="75" y="441.29" width="10" height="2"/>
<rect x="75" y="400.31" width="10" height="2"/>
<rect x="75" y="359.33" width="10" height="2"/>
<rect x="307" y="321" width="2" height="214"/>
<rect x="307" y="533" width="186" height="2"/>
<rect x="527" y="321" width="2" height="214"/>
<rect x="527" y="533" width="186" height="2"/>
<rect x="747" y="321" width="2" height="214"/>
<rect x="747" y="533" width="186" height="2"/>
<rect x="85" y="569" width="2" height="212"/>
<rect x="85" y="779" width="188" height="2"/>
<rect x="75" y="769.30" width="10" height="2"/>
<rect x="75" y="728.75" width="10" height="2"/>
<rect x="75" y="688.20" width="10" height="2"/>
<rect x="75" y="647.65" width="10" height="2"/>
<rect x="75" y="607.10" width="10" height="2"/>
<rect x="92.70" y="781" width="2" height="10"/>
<rect x="139.90" y="781" width="2" height="10"/>
<rect x="187.10" y="781" width="2" height="10"/>
<rect x="234.30" y="781" width="2" height="10"/>
<rect x="307" y="569" width="2" height="212"/>
<rect x="307" y="779" width="186" height="2"/>
<rect x="314.50" y="781" width="2" height="10"/>
<rect x="361.20" y="781" width="2" height="10"/>
<rect x="407.90" y="781" width="2" height="10"/>
<rect x="454.60" y="781" width="2" height="10"/>
<rect x="527" y="569" width="2" height="212"/>
<rect x="527" y="779" width="186" height="2"/>
<rect x="534.50" y="781" width="2" height="10"/>
<rect x="581.20" y="781" width="2" height="10"/>
<rect x="627.90" y="781" width="2" height="10"/>
<rect x="674.60" y="781" width="2" height="10"/>
<rect x="747" y="569" width="2" height="212"/>
<rect x="747" y="779" width="186" height="2"/>
<rect x="754.50" y="781" width="2" height="10"/>
<rect x="801.20" y="781" width="2" height="10"/>
<rect x="847.90" y="781" width="2" height="10"/>
<rect x="894.60" y="781" width="2" height="10"/>
</g>
<g class="lt">
<text transform="translate(30.14 285.05) scale(0.9516 1)" font-size="26.7">0.0</text>
<text transform="translate(33.31 244.07) scale(0.8931 1)" font-size="26.7" letter-spacing="-0.03em">0.1</text>
<text transform="translate(31.57 203.09) scale(0.9300 1)" font-size="26.7">0.2</text>
<text transform="translate(31.59 162.11) scale(0.9148 1)" font-size="26.7">0.3</text>
<text transform="translate(30.44 121.13) scale(0.9530 1)" font-size="26.7">0.4</text>
<text transform="translate(30.14 533.05) scale(0.9516 1)" font-size="26.7">0.0</text>
<text transform="translate(33.31 492.07) scale(0.8931 1)" font-size="26.7" letter-spacing="-0.03em">0.1</text>
<text transform="translate(31.57 451.09) scale(0.9300 1)" font-size="26.7">0.2</text>
<text transform="translate(31.59 410.11) scale(0.9148 1)" font-size="26.7">0.3</text>
<text transform="translate(30.44 369.13) scale(0.9530 1)" font-size="26.7">0.4</text>
<text transform="translate(30.14 779.10) scale(0.9516 1)" font-size="26.7">0.0</text>
<text transform="translate(33.31 738.55) scale(0.8931 1)" font-size="26.7" letter-spacing="-0.03em">0.1</text>
<text transform="translate(31.57 698.00) scale(0.9300 1)" font-size="26.7">0.2</text>
<text transform="translate(31.59 657.45) scale(0.9148 1)" font-size="26.7">0.3</text>
<text transform="translate(30.44 616.90) scale(0.9530 1)" font-size="26.7">0.4</text>
<text transform="translate(86.59 821.90) scale(0.9126 1)" font-size="26.7">5</text>
<text transform="translate(125.81 821.90) scale(0.9704 1)" font-size="26.7" letter-spacing="-0.02em">10</text>
<text transform="translate(174.75 821.90) scale(0.9041 1)" font-size="26.7" letter-spacing="-0.06em">15</text>
<text transform="translate(219.87 821.90) scale(0.9975 1)" font-size="26.7">20</text>
<text transform="translate(308.39 821.90) scale(0.9126 1)" font-size="26.7">5</text>
<text transform="translate(347.11 821.90) scale(0.9704 1)" font-size="26.7" letter-spacing="-0.02em">10</text>
<text transform="translate(395.55 821.90) scale(0.9041 1)" font-size="26.7" letter-spacing="-0.06em">15</text>
<text transform="translate(440.17 821.90) scale(0.9975 1)" font-size="26.7">20</text>
<text transform="translate(528.39 821.90) scale(0.9126 1)" font-size="26.7">5</text>
<text transform="translate(567.11 821.90) scale(0.9704 1)" font-size="26.7" letter-spacing="-0.02em">10</text>
<text transform="translate(615.55 821.90) scale(0.9041 1)" font-size="26.7" letter-spacing="-0.06em">15</text>
<text transform="translate(660.17 821.90) scale(0.9975 1)" font-size="26.7">20</text>
<text transform="translate(748.39 821.90) scale(0.9126 1)" font-size="26.7">5</text>
<text transform="translate(787.11 821.90) scale(0.9704 1)" font-size="26.7" letter-spacing="-0.02em">10</text>
<text transform="translate(835.55 821.90) scale(0.9041 1)" font-size="26.7" letter-spacing="-0.06em">15</text>
<text transform="translate(880.17 821.90) scale(0.9975 1)" font-size="26.7">20</text>
<text transform="translate(1059.24 415.10) scale(0.9099 1)" font-size="26.7" letter-spacing="-0.03em">1.10</text>
<text transform="translate(1059.47 461.20) scale(0.8034 1)" font-size="26.7">1.11</text>
<text transform="translate(1060.15 507.20) scale(0.9739 1)" font-size="30">nightly</text>
</g>
<g class="b">
<text transform="translate(133.92 57.80) scale(0.9616 1)" font-size="28.5">master</text>
<text transform="translate(359.98 57.70) scale(0.9285 1)" font-size="28.5">bugfix</text>
<text transform="translate(551.12 57.70) scale(0.9614 1)" font-size="28.5">prerelease</text>
<text transform="translate(782.93 57.70) scale(0.9566 1)" font-size="28.5">backport</text>
<text transform="translate(441.14 860.00) scale(0.9107 1)" font-size="28.5">Timings (s)</text>
<text transform="translate(1009.81 362.00) scale(0.9087 1)" font-size="28.5">Julia version</text>
<text transform="translate(947.80 143.36) rotate(90) scale(0.9134 1)" font-size="28.5">Quick</text>
<text transform="translate(948.10 387.35) rotate(90) scale(0.9447 1)" font-size="28.5">Merge</text>
<text transform="translate(948.10 630.18) rotate(90) scale(0.9268 1)" font-size="28.5">Bubble</text>
</g>
<rect x="1010" y="386" width="40" height="40" fill="#0072B2"/>
<rect x="1010" y="432" width="40" height="40" fill="#E69F00"/>
<rect x="1010" y="478" width="40" height="40" fill="#009E73"/>
</svg></body></html>
